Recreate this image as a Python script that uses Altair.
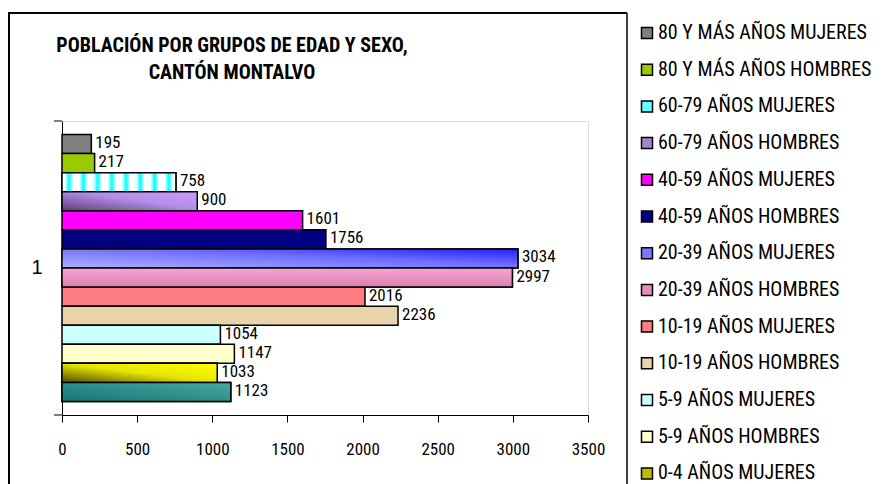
import altair as alt
import pandas as pd

# Series (top-to-bottom order, same as legend order)
series = [
    "80 Y MÁS AÑOS MUJERES",
    "80 Y MÁS AÑOS HOMBRES",
    "60-79 AÑOS MUJERES",
    "60-79 AÑOS HOMBRES",
    "40-59 AÑOS MUJERES",
    "40-59 AÑOS HOMBRES",
    "20-39 AÑOS MUJERES",
    "20-39 AÑOS HOMBRES",
    "10-19 AÑOS MUJERES",
    "10-19 AÑOS HOMBRES",
    "5-9 AÑOS MUJERES",
    "5-9 AÑOS HOMBRES",
    "0-4 AÑOS MUJERES",
    "0-4 AÑOS HOMBRES",
]
values = [195, 217, 758, 900, 1601, 1756, 3034, 2997, 2016, 2236, 1054, 1147, 1033, 1123]
colors = [
    "#808080", "#99cc00", "#66ffff", "#a586d0", "#ff00ff", "#000080", "#7777ff",
    "#e88cbe", "#ff7c80", "#e8d4aa", "#ccffff", "#ffffcc", "#bdbd00", "#2b8c8a",
]
category = ["1"] * len(series)
x_ticks = [0, 500, 1000, 1500, 2000, 2500, 3000, 3500]
title_lines = ["POBLACIÓN POR GRUPOS DE EDAD Y SEXO,", "CANTÓN MONTALVO"]

df = pd.DataFrame({"serie": series, "value": values, "cat": category})

NARROW = "Liberation Sans Narrow, Arial Narrow, Roboto Condensed, sans-serif"
ARIAL = "Liberation Sans, Arial, sans-serif"

W, H = 526, 294

x_enc = alt.X(
    "value:Q",
    scale=alt.Scale(domain=[0, 3500], nice=False),
    axis=alt.Axis(
        values=x_ticks, format="d", title=None, grid=False, tickColor="black", tickSize=7,
        domainColor="black", labelFont=NARROW, labelFontSize=17, labelColor="black",
        labelPadding=19, labelFlush=False,
    ),
)
y_enc = alt.Y(
    "cat:N",
    scale=alt.Scale(paddingInner=0, paddingOuter=0),
    axis=alt.Axis(
        title=None, ticks=False, labelFontSize=20, labelFont=ARIAL, labelColor="black",
        labelPadding=20, domainColor="black", labelAngle=0,
    ),
)
yoff = alt.YOffset(
    "serie:N", sort=series,
    scale=alt.Scale(domain=series, paddingInner=0, paddingOuter=0.71),
)

base = alt.Chart(df)

bars = base.mark_bar(stroke="black", strokeWidth=1.5).encode(
    x=x_enc, y=y_enc, yOffset=yoff,
    color=alt.Color(
        "serie:N",
        scale=alt.Scale(domain=series, range=colors),
        legend=alt.Legend(
            orient="none", legendX=575, legendY=-98, title=None, direction="vertical",
            columns=1, symbolType="square", symbolSize=121, symbolStrokeColor="black",
            symbolStrokeWidth=1.5, symbolOpacity=1, labelFont=NARROW, labelFontSize=20,
            labelColor="black", labelLimit=600, rowPadding=16.7, labelOffset=1, padding=0,
        ),
    ),
)


def grad(name, stops, x1=0, y1=1, x2=1, y2=0):
    g = alt.Gradient(
        gradient="linear",
        stops=[alt.GradientStop(color=c, offset=o) for o, c in stops],
        x1=x1, y1=y1, x2=x2, y2=y2,
    )
    return base.transform_filter(alt.datum.serie == name).mark_bar(
        color=g, stroke="black", strokeWidth=1.5
    ).encode(x=x_enc, y=y_enc, yOffset=yoff)


# diamond-like pattern approximation for 60-79 MUJERES
pat = []
n = 8
for i in range(n):
    a = i / n
    pat += [(a, "#ffffff"), (a + 0.2 / n, "#ffffff"), (a + 0.5 / n, "#00ffff"), (a + 0.8 / n, "#ffffff")]
pat.append((1.0, "#ffffff"))

g_layers = [
    grad("60-79 AÑOS MUJERES", pat, 0, 0, 1, 0),
    grad("60-79 AÑOS HOMBRES", [(0, "#5a3d7a"), (0.55, "#b48ee6"), (1, "#cc99ff")]),
    grad("20-39 AÑOS MUJERES", [(0, "#b0b0ff"), (0.6, "#6a6aff"), (1, "#1f1fff")]),
    grad("20-39 AÑOS HOMBRES", [(0, "#f6a6d2"), (1, "#d97fb0")], 0, 0, 0, 1),
    grad("0-4 AÑOS MUJERES", [(0, "#4d4d00"), (0.5, "#e6e600"), (1, "#ffff00")]),
    grad("0-4 AÑOS HOMBRES", [(0, "#157676"), (1, "#48a8a2")]),
]

labels = base.mark_text(
    align="left", baseline="middle", dx=4, dy=-1, font=NARROW, fontSize=17, color="black"
).encode(x=x_enc, y=y_enc, yOffset=yoff, text="value:Q")

one = alt.Chart(pd.DataFrame({"a": [0]}))
title_marks = [
    one.mark_text(
        text=t, font=NARROW, fontSize=20, fontWeight="bold", color="black",
        align="center", baseline="alphabetic",
    ).encode(x=alt.value(170), y=alt.value(yy))
    for t, yy in zip(title_lines, [-69, -42])
]
deco = [
    one.mark_rule(color="black", strokeWidth=2).encode(x=alt.value(-54), x2=alt.value(565), y=alt.value(-108)),
    one.mark_rule(color="black", strokeWidth=2).encode(x=alt.value(-53), y=alt.value(-108), y2=alt.value(380)),
    one.mark_rule(color="black", strokeWidth=1.5).encode(x=alt.value(565), y=alt.value(-108), y2=alt.value(380)),
    one.mark_rule(color="black", strokeWidth=1).encode(x=alt.value(-8), x2=alt.value(0), y=alt.value(0)),
    one.mark_rule(color="black", strokeWidth=1).encode(x=alt.value(-8), x2=alt.value(0), y=alt.value(H)),
]

chart = alt.layer(bars, *g_layers, labels, *title_marks, *deco).properties(
    width=W, height=H,
    autosize=alt.AutoSizeParams(type="none"),
    padding={"left": 54, "top": 113, "right": 289, "bottom": 69},
).configure_view(fill="#ebebeb", stroke=None).configure(background="white")

chart.save("out.html", embed_options={"renderer": "svg", "actions": False})
